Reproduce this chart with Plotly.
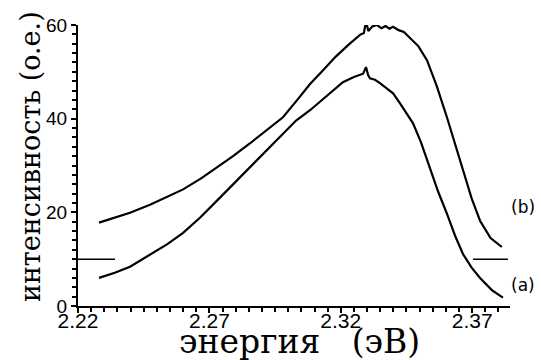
import plotly.graph_objects as go

# curve (b)
b_x = [2.2280, 2.2340, 2.2398, 2.2474, 2.2540, 2.2600, 2.2670, 2.2729, 2.2790, 2.2854,
       2.2920, 2.2980, 2.3033, 2.3083, 2.3130, 2.3180, 2.3230, 2.3273, 2.3288, 2.3296,
       2.3305, 2.3320, 2.3338, 2.3355, 2.3370, 2.3385, 2.3399, 2.3420, 2.3440, 2.3463,
       2.3495, 2.3528, 2.3565, 2.3604, 2.3635, 2.3665, 2.3698, 2.3730, 2.3770, 2.3813]
b_y = [17.8, 18.8, 19.9, 21.6, 23.3, 24.9, 27.3, 29.6, 32.0, 34.7,
       37.6, 40.3, 43.9, 47.4, 50.2, 53.2, 55.8, 57.9, 58.3, 60.8,
       58.7, 59.7, 60.0, 59.3, 59.8, 59.2, 59.6, 58.9, 58.5, 57.3,
       55.5, 52.5, 47.0, 40.3, 34.5, 28.9, 23.0, 18.2, 14.5, 12.6]

# curve (a)
a_x = [2.2280, 2.2340, 2.2398, 2.2474, 2.2540, 2.2600, 2.2665, 2.2729, 2.2790, 2.2854,
       2.2920, 2.2980, 2.3030, 2.3083, 2.3140, 2.3208, 2.3250, 2.3285, 2.3296, 2.3304,
       2.3311, 2.3330, 2.3349, 2.3375, 2.3399, 2.3425, 2.3450, 2.3475, 2.3505, 2.3539,
       2.3570, 2.3604, 2.3635, 2.3665, 2.3698, 2.3730, 2.3775, 2.3817]
a_y = [6.0, 7.1, 8.4, 10.9, 13.2, 15.6, 18.9, 22.5, 26.0, 29.6,
       33.4, 36.9, 39.6, 41.8, 44.6, 47.8, 48.9, 49.6, 51.0, 49.3,
       48.6, 48.3, 47.6, 46.4, 45.4, 43.3, 41.2, 39.0, 35.0, 29.6,
       24.5, 19.7, 15.0, 11.1, 8.2, 6.0, 3.4, 1.8]

# zero-level markers
base_left_x = [2.2200, 2.2341]
base_right_x = [2.3703, 2.3836]
base_y = [10, 10]

x_ticks = [2.22, 2.27, 2.32, 2.37]
x_tick_labels = ["2.22", "2.27", "2.32", "2.37"]
y_ticks = [0, 20, 40, 60]

line = dict(color="black", width=2.2)

fig = go.Figure()
fig.add_trace(go.Scatter(x=b_x, y=b_y, mode="lines", line=line, showlegend=False))
fig.add_trace(go.Scatter(x=a_x, y=a_y, mode="lines", line=line, showlegend=False))
fig.add_trace(go.Scatter(x=base_left_x, y=base_y, mode="lines",
                         line=dict(color="black", width=1.5), showlegend=False))
fig.add_trace(go.Scatter(x=base_right_x, y=base_y, mode="lines",
                         line=dict(color="black", width=1.5), showlegend=False))

lab_font = dict(family="DejaVu Sans", size=17, color="black")
fig.add_annotation(xref="paper", yref="paper", x=1.0, y=0.352, text="(b)",
                   showarrow=False, xanchor="left", xshift=-1, yanchor="middle", font=lab_font)
fig.add_annotation(xref="paper", yref="paper", x=1.0, y=0.075, text="(a)",
                   showarrow=False, xanchor="left", xshift=-1, yanchor="middle", font=lab_font)

fig.add_annotation(xref="paper", yref="paper", x=0.5116, y=-0.128,
                   text="энергия\u00a0\u00a0\u00a0(эВ)", showarrow=False,
                   xanchor="center", yanchor="middle",
                   font=dict(family="DejaVu Serif", size=33, color="black"))
fig.add_annotation(xref="paper", yref="paper", x=-0.111, y=0.53,
                   text="интенсивность (o.e.)", textangle=-90, showarrow=False,
                   xanchor="center", yanchor="middle",
                   font=dict(family="DejaVu Serif", size=27, color="black"))

fig.update_layout(
    width=541, height=360,
    margin=dict(l=78, r=31, t=25, b=54, autoexpand=False),
    paper_bgcolor="white", plot_bgcolor="white",
    xaxis=dict(
        range=[2.22, 2.3844], tickvals=x_ticks, ticktext=x_tick_labels,
        showgrid=False, zeroline=False, showline=True, linecolor="black", linewidth=2,
        ticks="outside", ticklen=5, tickwidth=2, tickcolor="black",
        minor=dict(dtick=0.005, tick0=2.22, ticks="outside", ticklen=4, tickwidth=1.5, tickcolor="black"),
        tickfont=dict(family="Liberation Sans", size=21, color="black"),
        ticklabelstandoff=-10,
        automargin=False,
    ),
    yaxis=dict(
        range=[0, 60], tickvals=y_ticks,
        showgrid=False, zeroline=False, showline=True, linecolor="black", linewidth=2,
        ticks="outside", ticklen=5, tickwidth=2, tickcolor="black",
        minor=dict(dtick=2, tick0=0, ticks="outside", ticklen=4, tickwidth=1.5, tickcolor="black"),
        tickfont=dict(family="Liberation Sans", size=19, color="black"),
        automargin=False,
    ),
)

# remove the page's default body margin so the figure fills the window exactly
fig.write_html("out.html", config={"displayModeBar": False},
               post_script="document.body.style.margin='0';document.body.style.overflow='hidden';")
